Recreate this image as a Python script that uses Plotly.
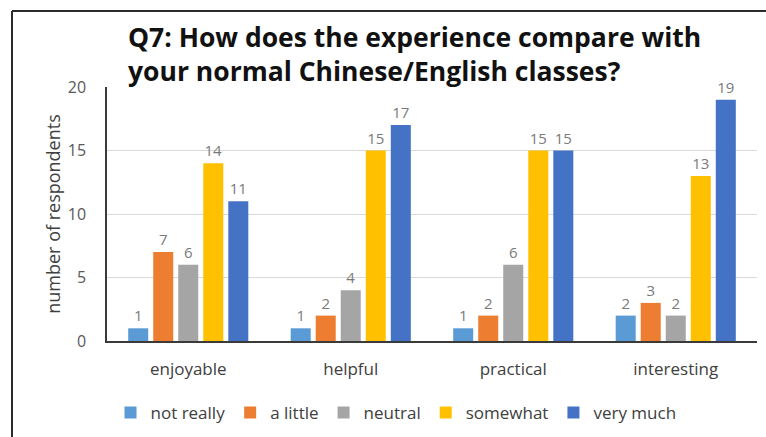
import plotly.graph_objects as go

categories = ["enjoyable", "helpful", "practical", "interesting"]
series_names = ["not really", "a little", "neutral", "somewhat", "very much"]
not_really = [1, 1, 1, 2]
a_little = [7, 2, 2, 3]
neutral = [6, 4, 6, 2]
somewhat = [14, 15, 15, 13]
very_much = [11, 17, 15, 19]
y_ticks = [0, 5, 10, 15, 20]

colors = ["#5B9BD5", "#ED7D31", "#A5A5A5", "#FFC000", "#4472C4"]
values = [not_really, a_little, neutral, somewhat, very_much]

W, H = 766, 437
L, R, T, B = 107, 9, 87, 96
FONT = "Open Sans, sans-serif"

fig = go.Figure()
for name, vals, col in zip(series_names, values, colors):
    fig.add_trace(go.Bar(
        name=name, x=categories, y=vals,
        marker=dict(color=col, line=dict(width=0)),
        text=vals, texttemplate="%{text}", textposition="outside",
        textfont=dict(family=FONT, size=15, color="#7a7a7a"),
        cliponaxis=False,
    ))

pw = W - L - R
ph = H - T - B


def px_to_paper_x(px):
    return (px - L) / pw


def px_to_paper_y(py):
    return (H - B - py) / ph


# frame around the chart area (left and top edges)
fig.add_shape(type="line", xref="paper", yref="paper",
              x0=px_to_paper_x(12), x1=px_to_paper_x(12),
              y0=px_to_paper_y(11), y1=px_to_paper_y(H + 5),
              line=dict(color="#2b2b2b", width=2))
fig.add_shape(type="line", xref="paper", yref="paper",
              x0=px_to_paper_x(12), x1=px_to_paper_x(W + 5),
              y0=px_to_paper_y(11), y1=px_to_paper_y(11),
              line=dict(color="#2b2b2b", width=2))

fig.add_annotation(
    text="Q7: How does the experience compare with<br>your normal Chinese/English classes?",
    xref="paper", yref="paper",
    x=px_to_paper_x(126), y=px_to_paper_y(17),
    xanchor="left", yanchor="top", align="left", showarrow=False,
    font=dict(family=FONT, size=26.5, color="#111111", weight="bold"),
)

fig.update_layout(
    width=W, height=H,
    margin=dict(l=L, r=R, t=T, b=B, autoexpand=False),
    paper_bgcolor="white", plot_bgcolor="white",
    barmode="group", bargap=0.23, bargroupgap=0.2,
    font=dict(family=FONT, size=17, color="#404040"),
    showlegend=True,
    legend=dict(
        orientation="h", x=px_to_paper_x(396), y=px_to_paper_y(413),
        xanchor="center", yanchor="middle",
        font=dict(family=FONT, size=17, color="#404040"),
        itemwidth=30, traceorder="normal",
    ),
    xaxis=dict(
        showline=True, linecolor="#3a3a3a", linewidth=2,
        ticks="", ticklabelstandoff=12, automargin=False,
        tickfont=dict(family=FONT, size=17, color="#404040"),
    ),
    yaxis=dict(
        range=[0, 20], tickvals=y_ticks, automargin=False,
        showgrid=True, gridcolor="#d9d9d9", gridwidth=1,
        showline=True, linecolor="#3a3a3a", linewidth=1.5,
        zeroline=False, ticks="", ticklabelstandoff=16,
        tickfont=dict(family=FONT, size=16, color="#595959"),
        title=dict(text="number of respondents", standoff=2,
                   font=dict(family=FONT, size=18, color="#404040")),
    ),
)

fig.write_html("out.html")
